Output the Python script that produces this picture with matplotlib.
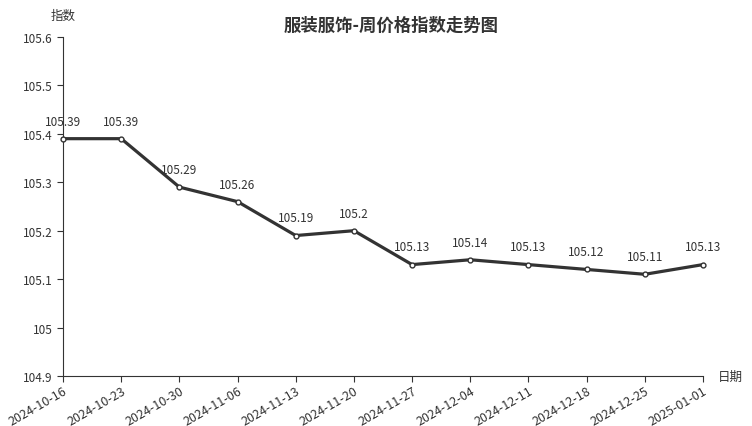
import matplotlib.pyplot as plt

plt.rcParams['font.family'] = ['Noto Sans CJK SC', 'DejaVu Sans']

# 周价格指数数据
datas = ['2024-10-16', '2024-10-23', '2024-10-30', '2024-11-06', '2024-11-13', '2024-11-20',
         '2024-11-27', '2024-12-04', '2024-12-11', '2024-12-18', '2024-12-25', '2025-01-01']
indices = [105.39, 105.39, 105.29, 105.26, 105.19, 105.2,
           105.13, 105.14, 105.13, 105.12, 105.11, 105.13]
yticks = [104.9, 105, 105.1, 105.2, 105.3, 105.4, 105.5, 105.6]
ytick_labels = ['104.9', '105', '105.1', '105.2', '105.3', '105.4', '105.5', '105.6']

fig = plt.figure(figsize=(7.52, 4.27), dpi=100)
ax = fig.add_axes([0.0838, 0.1171, 0.851, 0.794])

x = range(len(datas))
ax.plot(x, indices, color='#333333', linewidth=2.3, marker='o', markersize=3.5,
        markerfacecolor='white', markeredgecolor='#333333', markeredgewidth=1, zorder=3,
        clip_on=False)

for i, v in zip(x, indices):
    ax.annotate(f'{v:g}', (i, v), textcoords='offset points', xytext=(0, 8),
                ha='center', va='bottom', fontsize=8.5, color='#333333')

ax.set_xlim(0, len(datas) - 1)
ax.set_ylim(104.9, 105.6)
ax.set_xticks(list(x))
ax.set_xticklabels(datas, rotation=30, ha='right', rotation_mode='anchor', fontsize=9, color='#333333')
ax.set_yticks(yticks)
ax.set_yticklabels(ytick_labels, fontsize=8.5, color='#333333')
ax.tick_params(axis='x', pad=2)

for s in ['top', 'right']:
    ax.spines[s].set_visible(False)
for s in ['left', 'bottom']:
    ax.spines[s].set_color('#333333')
ax.tick_params(colors='#333333', length=4)

fig.text(0.0838, 0.962, '指数', ha='center', va='center', fontsize=9, color='#333333')
fig.text(0.955, 0.117, '日期', ha='left', va='center', fontsize=9, color='#333333')
fig.text(0.52, 0.94, '服装服饰-周价格指数走势图', ha='center', va='center',
         fontsize=12.5, fontweight='bold', color='#333333')

plt.savefig('out.png', dpi=100)
